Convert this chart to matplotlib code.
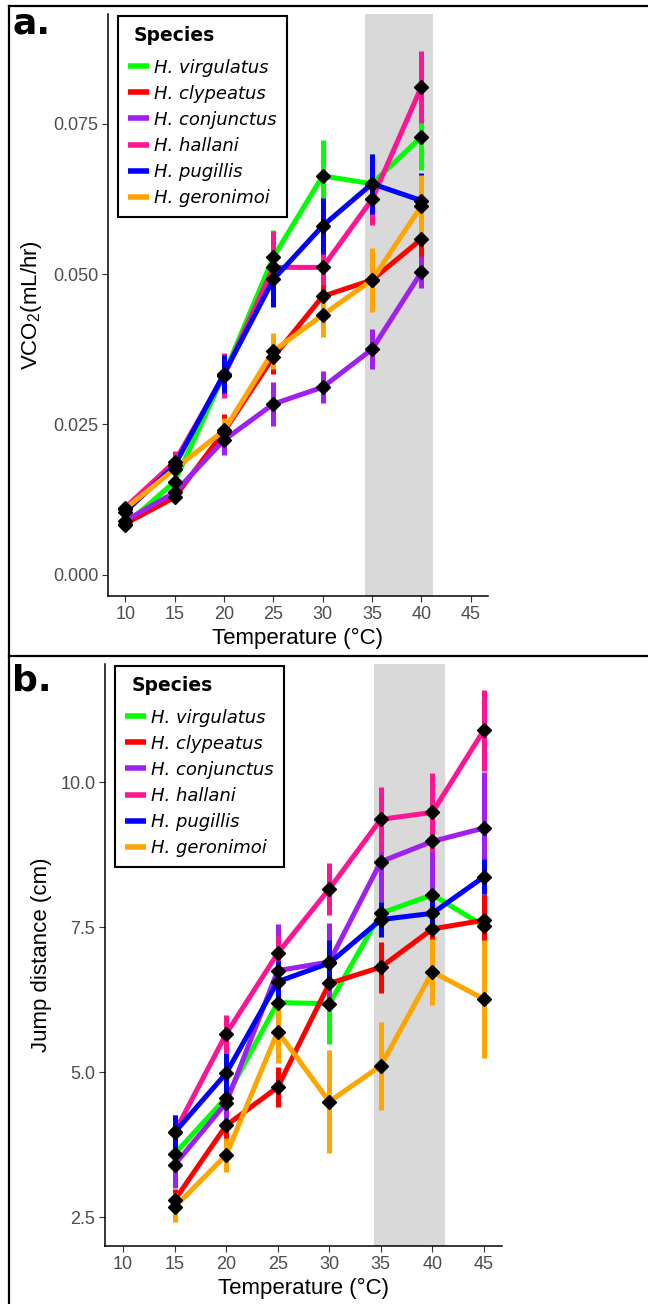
import matplotlib
matplotlib.use('Agg')
import matplotlib.pyplot as plt
from matplotlib.lines import Line2D

plt.rcParams['font.family'] = ['Liberation Sans', 'DejaVu Sans']
plt.rcParams['mathtext.fontset'] = 'custom'
plt.rcParams['mathtext.rm'] = 'Liberation Sans'
plt.rcParams['mathtext.default'] = 'regular'

species = ['H. virgulatus', 'H. clypeatus', 'H. conjunctus', 'H. hallani', 'H. pugillis', 'H. geronimoi']
colors = ['#00FF00', '#FF0000', '#A020F0', '#FF1493', '#0000FF', '#FFA500']

# panel a: CO2 production
temp_a = [10, 15, 20, 25, 30, 35, 40]
vco2_virgulatus = [0.0083, 0.0155, 0.0333, 0.0528, 0.0663, 0.0650, 0.0728]
vco2_clypeatus = [0.0085, 0.0129, 0.0238, 0.0362, 0.0463, 0.0490, 0.0558]
vco2_conjunctus = [0.0090, 0.0137, 0.0224, 0.0284, 0.0312, 0.0375, 0.0503]
vco2_hallani = [0.0112, 0.0188, 0.0331, 0.0511, 0.0511, 0.0624, 0.0811]
vco2_pugillis = [0.0105, 0.0182, 0.0334, 0.0491, 0.0580, 0.0650, 0.0622]
vco2_geronimoi = [0.0110, 0.0176, 0.0240, 0.0372, 0.0432, 0.0490, 0.0613]

se_a_virgulatus = [0.0005, 0.0012, 0.0025, 0.0045, 0.0060, 0.0050, 0.0055]
se_a_clypeatus = [0.0005, 0.0008, 0.0030, 0.0028, 0.0040, 0.0030, 0.0045]
se_a_conjunctus = [0.0005, 0.0010, 0.0025, 0.0036, 0.0027, 0.0033, 0.0027]
se_a_hallani = [0.0006, 0.0018, 0.0037, 0.0060, 0.0030, 0.0043, 0.0060]
se_a_pugillis = [0.0005, 0.0012, 0.0032, 0.0045, 0.0047, 0.0050, 0.0045]
se_a_geronimoi = [0.0005, 0.0010, 0.0020, 0.0030, 0.0036, 0.0053, 0.0052]

# panel b: jump distance
temp_b = [15, 20, 25, 30, 35, 40, 45]
jump_virgulatus = [3.59, 4.56, 6.20, 6.18, 7.74, 8.06, 7.52]
jump_clypeatus = [2.79, 4.08, 4.74, 6.53, 6.81, 7.47, 7.62]
jump_conjunctus = [3.40, 4.47, 6.75, 6.90, 8.63, 8.98, 9.21]
jump_hallani = [3.96, 5.66, 7.05, 8.16, 9.36, 9.48, 10.90]
jump_pugillis = [3.96, 4.98, 6.56, 6.88, 7.63, 7.74, 8.37]
jump_geronimoi = [2.67, 3.57, 5.70, 4.49, 5.11, 6.73, 6.26]

se_b_virgulatus = [0.30, 0.30, 0.35, 0.70, 0.40, 0.45, 0.40]
se_b_clypeatus = [0.20, 0.35, 0.35, 0.40, 0.44, 0.50, 0.45]
se_b_conjunctus = [0.40, 0.40, 0.80, 0.67, 0.70, 0.90, 0.97]
se_b_hallani = [0.30, 0.33, 0.30, 0.45, 0.56, 0.68, 0.70]
se_b_pugillis = [0.30, 0.35, 0.35, 0.40, 0.30, 0.35, 0.30]
se_b_geronimoi = [0.25, 0.30, 0.55, 0.89, 0.76, 0.57, 1.02]

shade = (34.3, 41.2)

vals_a = [vco2_virgulatus, vco2_clypeatus, vco2_conjunctus, vco2_hallani, vco2_pugillis, vco2_geronimoi]
errs_a = [se_a_virgulatus, se_a_clypeatus, se_a_conjunctus, se_a_hallani, se_a_pugillis, se_a_geronimoi]
vals_b = [jump_virgulatus, jump_clypeatus, jump_conjunctus, jump_hallani, jump_pugillis, jump_geronimoi]
errs_b = [se_b_virgulatus, se_b_clypeatus, se_b_conjunctus, se_b_hallani, se_b_pugillis, se_b_geronimoi]

fig = plt.figure(figsize=(6.48, 13.04), dpi=100)
W, H = 648, 1304
ax_a = fig.add_axes([108 / W, 1 - 596 / H, 380 / W, 582 / H])
ax_b = fig.add_axes([105 / W, 1 - 1246 / H, 397 / W, 582 / H])


def draw_panel(ax, temps, vals, errs, ylim, yticks, yfmt, ylabel):
    ax.axvspan(shade[0], shade[1], color='#D9D9D9', lw=0, zorder=0)
    for v, c, name in zip(vals, colors, species):
        ax.plot(temps, v, color=c, lw=3.6, label=name, zorder=2, solid_capstyle='butt')
    for v, e, c in zip(vals, errs, colors):
        ax.vlines(temps, [a - b for a, b in zip(v, e)], [a + b for a, b in zip(v, e)],
                  color=c, lw=3.6, zorder=3)
    for v in vals:
        ax.plot(temps, v, ls='none', marker='D', ms=7, color='black', zorder=4)
    ax.set_xlim(8.25, 46.75)
    ax.set_ylim(*ylim)
    ax.set_xticks([10, 15, 20, 25, 30, 35, 40, 45])
    ax.set_yticks(yticks)
    ax.set_yticklabels([yfmt.format(t) for t in yticks])
    for s in ['top', 'right']:
        ax.spines[s].set_visible(False)
    for s in ['left', 'bottom']:
        ax.spines[s].set_linewidth(1.1)
    ax.tick_params(length=4, width=0.8, color='#333333', labelcolor='#4D4D4D',
                   labelsize=13, pad=3)
    ax.set_xlabel('Temperature (°C)', fontsize=16, labelpad=4)
    ax.set_ylabel(ylabel, fontsize=16)
    leg = ax.legend(loc='upper left', bbox_to_anchor=(0.026, 0.997), title='Species',
                    prop={'family': 'DejaVu Sans', 'style': 'italic', 'size': 13},
                    title_fontproperties={'family': 'DejaVu Sans', 'weight': 'bold', 'size': 13.5},
                    alignment='left', fancybox=False, edgecolor='black', framealpha=1,
                    handlelength=1.15, handletextpad=0.3, labelspacing=0.45,
                    borderpad=0.55, borderaxespad=0)
    leg.get_frame().set_linewidth(1.5)
    leg.get_title().set_position((6, 0))
    leg._legend_box.sep = 10  # extra gap under the title
    for h in leg.get_lines():
        h.set_linewidth(4)


draw_panel(ax_a, temp_a, vals_a, errs_a, (-0.0035, 0.0932),
           [0.0, 0.025, 0.05, 0.075], '{:.3f}', 'VCO$_2$(mL/hr)')
draw_panel(ax_b, temp_b, vals_b, errs_b, (2.0, 12.04),
           [2.5, 5.0, 7.5, 10.0], '{:.1f}', 'Jump distance (cm)')
ax_a.yaxis.set_label_coords((44 - 108) / 380, 0.5)
ax_b.yaxis.set_label_coords((52 - 105) / 397, 0.5)

# panel frames
for y in [6, 656]:
    fig.add_artist(Line2D([9 / W, 1], [1 - y / H, 1 - y / H], color='black', lw=1.6))
fig.add_artist(Line2D([9 / W, 9 / W], [0, 1 - 6 / H], color='black', lw=1.6))

fig.text(12 / W, 1 - 33 / H, 'a.', fontsize=26, fontweight='bold', family='DejaVu Sans',
         va='baseline', ha='left')
fig.text(12 / W, 1 - 690 / H, 'b.', fontsize=26, fontweight='bold', family='DejaVu Sans',
         va='baseline', ha='left')

fig.savefig('out.png', dpi=100)
